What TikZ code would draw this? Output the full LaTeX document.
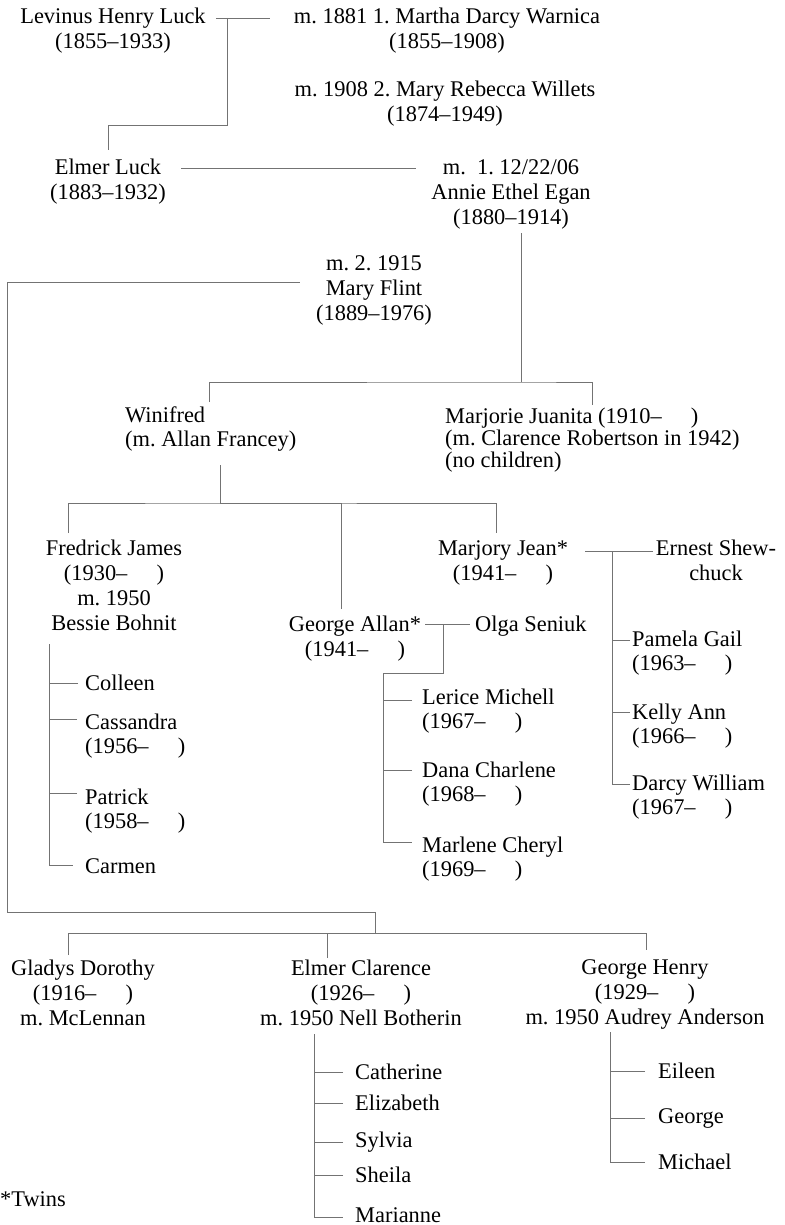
\documentclass[tikz,border=0pt]{standalone}
\usepackage{fontspec}
\setmainfont{Liberation Serif}
\usetikzlibrary{positioning}
\newcommand{\treefont}{\fontsize{22.4}{25}\selectfont}
\newcommand{\kidfont}{\fontsize{22.4}{24}\selectfont}
\newcommand{\alive}[1]{(#1--\hspace{1.3em})}
\frenchspacing

\begin{document}
\begin{tikzpicture}[x=1pt, y=-1pt,
	person/.style={anchor=north, align=center, inner sep=0pt, font=\treefont},
	kid/.style={anchor=north west, align=left, inner sep=0pt, font=\kidfont},
	link/.style={draw=black!55, line width=0.8pt}]
	\useasboundingbox (0,0) rectangle (784,1225);

	\node[person] (levinus) at (113,8) {Levinus Henry Luck\\(1855--1933)};
	\node[person] (martha) at (447,8) {m. 1881 1. Martha Darcy Warnica\\(1855--1908)};
	\node[person] (rebecca) at (445,81) {m. 1908 2. Mary Rebecca Willets\\(1874--1949)};
	\node[person] (elmer) at (108,159) {Elmer Luck\\(1883--1932)};
	\node[person] (annie) at (511,159) {m.\ \ 1. 12/22/06\\Annie Ethel Egan\\(1880--1914)};
	\node[person] (flint) at (374,255) {m. 2. 1915\\Mary Flint\\(1889--1976)};

	\node[kid] (winifred) at (125,407) {Winifred\\(m. Allan Francey)};
	\node[kid, font=\fontsize{22.4}{21.7}\selectfont] (marjorie) at (445,408) {Marjorie Juanita \alive{1910}\\(m. Clarence Robertson in 1942)\\(no children)};

	\node[person] (fredrick) at (114,540) {Fredrick James\\\alive{1930}\\m. 1950\\Bessie Bohnit};
	\node[person] (jean) at (503,540) {Marjory Jean*\\\alive{1941}};
	\node[person] (ernest) at (716,540) {Ernest Shew-\\chuck};
	\node[person] (allan) at (355,616) {George Allan*\\\alive{1941}};
	\node[kid] (olga) at (475,616) {Olga Seniuk};

	\node[kid] (colleen) at (85,675) {Colleen};
	\node[kid, below=39pt of colleen.north west, anchor=north west] (cassandra) {Cassandra\\\alive{1956}};
	\node[kid, below=75pt of cassandra.north west, anchor=north west] (patrick) {Patrick\\\alive{1958}};
	\node[kid, below=69pt of patrick.north west, anchor=north west] (carmen) {Carmen};

	\node[kid] (lerice) at (422,689) {Lerice Michell\\\alive{1967}};
	\node[kid, below=73pt of lerice.north west, anchor=north west] (dana) {Dana Charlene\\\alive{1968}};
	\node[kid, below=75pt of dana.north west, anchor=north west] (marlene) {Marlene Cheryl\\\alive{1969}};

	\node[kid] (pamela) at (632,631) {Pamela Gail\\\alive{1963}};
	\node[kid, below=73pt of pamela.north west, anchor=north west] (kelly) {Kelly Ann\\\alive{1966}};
	\node[kid, below=71pt of kelly.north west, anchor=north west] (darcy) {Darcy William\\\alive{1967}};

	\node[person] (gladys) at (83,960) {Gladys Dorothy\\\alive{1916}\\m. McLennan};
	\node[person] (clarence) at (361,960) {Elmer Clarence\\\alive{1926}\\m. 1950 Nell Botherin};
	\node[person] (henry) at (645,959) {George Henry\\\alive{1929}\\m. 1950 Audrey Anderson};

	\node[kid] (catherine) at (355,1064) {Catherine};
	\node[kid, below=31pt of catherine.north west, anchor=north west] (elizabeth) {Elizabeth};
	\node[kid, below=37pt of elizabeth.north west, anchor=north west] (sylvia) {Sylvia};
	\node[kid, below=35pt of sylvia.north west, anchor=north west] (sheila) {Sheila};
	\node[kid, below=40pt of sheila.north west, anchor=north west] (marianne) {Marianne};

	\node[kid] (eileen) at (658,1063) {Eileen};
	\node[kid, below=45pt of eileen.north west, anchor=north west] (george) {George};
	\node[kid, below=46pt of george.north west, anchor=north west] (michael) {Michael};

	\node[kid] (twins) at (0,1191) {*Twins};

	\draw[link] ([xshift=10pt,yshift=-10pt]levinus.north east) -- ([xshift=-24pt,yshift=-10pt]martha.north west);
	\coordinate (wed1) at ([xshift=22pt,yshift=-10pt]levinus.north east);
	\draw[link] (wed1) -- ++(0,107) -| ([yshift=9pt]elmer.north);

	\draw[link] ([xshift=15pt,yshift=-9pt]elmer.north east) -- ([xshift=-15pt,yshift=-9pt]annie.north west);
	\coordinate (fam1) at (521,382);
	\draw[link] ([xshift=10pt,yshift=-4pt]annie.south) -- (fam1);
	\draw[link] ([xshift=84pt,yshift=5pt]winifred.north west) |- (fam1) -| ([xshift=147pt,yshift=3pt]marjorie.north west);

	\coordinate (fam2) at (375,933);
	\draw[link] ([xshift=-16pt,yshift=-27pt]flint.north west) -- ++(-293,0) |- ([yshift=21pt]fam2) -- (fam2);
	\draw[link] ([xshift=-15pt,yshift=5pt]gladys.north) |- (fam2) -| ([xshift=1pt,yshift=9pt]henry.north);
	\draw[link] ([xshift=-34pt,yshift=2pt]clarence.north) |- (fam2);

	\coordinate (fam3) at (220,503);
	\draw[link] ([xshift=95pt,yshift=-13pt]winifred.south west) -- (fam3);
	\draw[link] ([xshift=-46pt,yshift=7pt]fredrick.north) |- (fam3) -| ([xshift=-7pt,yshift=7pt]jean.north);
	\draw[link] ([xshift=-14pt,yshift=7pt]allan.north) |- (fam3);

	\draw[link] ([xshift=-65pt,yshift=-13pt]fredrick.south) coordinate (fam4) |- ([xshift=-12pt]carmen.west);
	\draw[link] ([xshift=-7pt]colleen.west) -- (colleen.west -| fam4);
	\draw[link] ([xshift=-8pt,yshift=-5pt]cassandra.north west) -- ++(-28,0);
	\draw[link] ([xshift=-8pt,yshift=-4pt]patrick.north west) -- ++(-28,0);

	\draw[link] ([xshift=4pt,yshift=-8pt]allan.north east) -- ([xshift=-5pt,yshift=-8pt]olga.north west);
	\coordinate (wed2) at ([xshift=22pt,yshift=-8pt]allan.north east);
	\draw[link] (wed2) -- ++(0,49) -| ([xshift=-39pt,yshift=-5pt]marlene.north west) -- ([xshift=-10pt,yshift=-5pt]marlene.north west);
	\draw[link] ([xshift=-10pt,yshift=-11pt]lerice.north west) -- ++(-29,0);
	\draw[link] ([xshift=-10pt,yshift=-8pt]dana.north west) -- ++(-29,0);

	\draw[link] ([xshift=17pt,yshift=-11pt]jean.north east) -- ([xshift=-3pt,yshift=-11pt]ernest.north west);
	\coordinate (wed3) at ([xshift=44pt,yshift=-11pt]jean.north east);
	\draw[link] (wed3) |- ([xshift=-2pt,yshift=-9pt]darcy.north west);
	\draw[link] ([xshift=-2pt,yshift=-9pt]pamela.north west) -- ++(-18,0);
	\draw[link] ([xshift=-2pt,yshift=-8pt]kelly.north west) -- ++(-18,0);

	\draw[link] ([xshift=-47pt,yshift=-8pt]clarence.south) coordinate (fam5) |- ([xshift=-12pt,yshift=-3pt]marianne.west);
	\draw[link] ([xshift=-12pt]catherine.west) -- (catherine.west -| fam5);
	\draw[link] ([xshift=-12pt]elizabeth.west) -- (elizabeth.west -| fam5);
	\draw[link] ([xshift=-12pt]sylvia.west) -- (sylvia.west -| fam5);
	\draw[link] ([xshift=-12pt]sheila.west) -- (sheila.west -| fam5);

	\draw[link] ([xshift=-35pt,yshift=-3pt]henry.south) coordinate (fam6) |- ([xshift=-13pt]michael.west);
	\draw[link] ([xshift=-13pt]eileen.west) -- (eileen.west -| fam6);
	\draw[link] ([xshift=-13pt]george.west) -- (george.west -| fam6);
\end{tikzpicture}
\end{document}
